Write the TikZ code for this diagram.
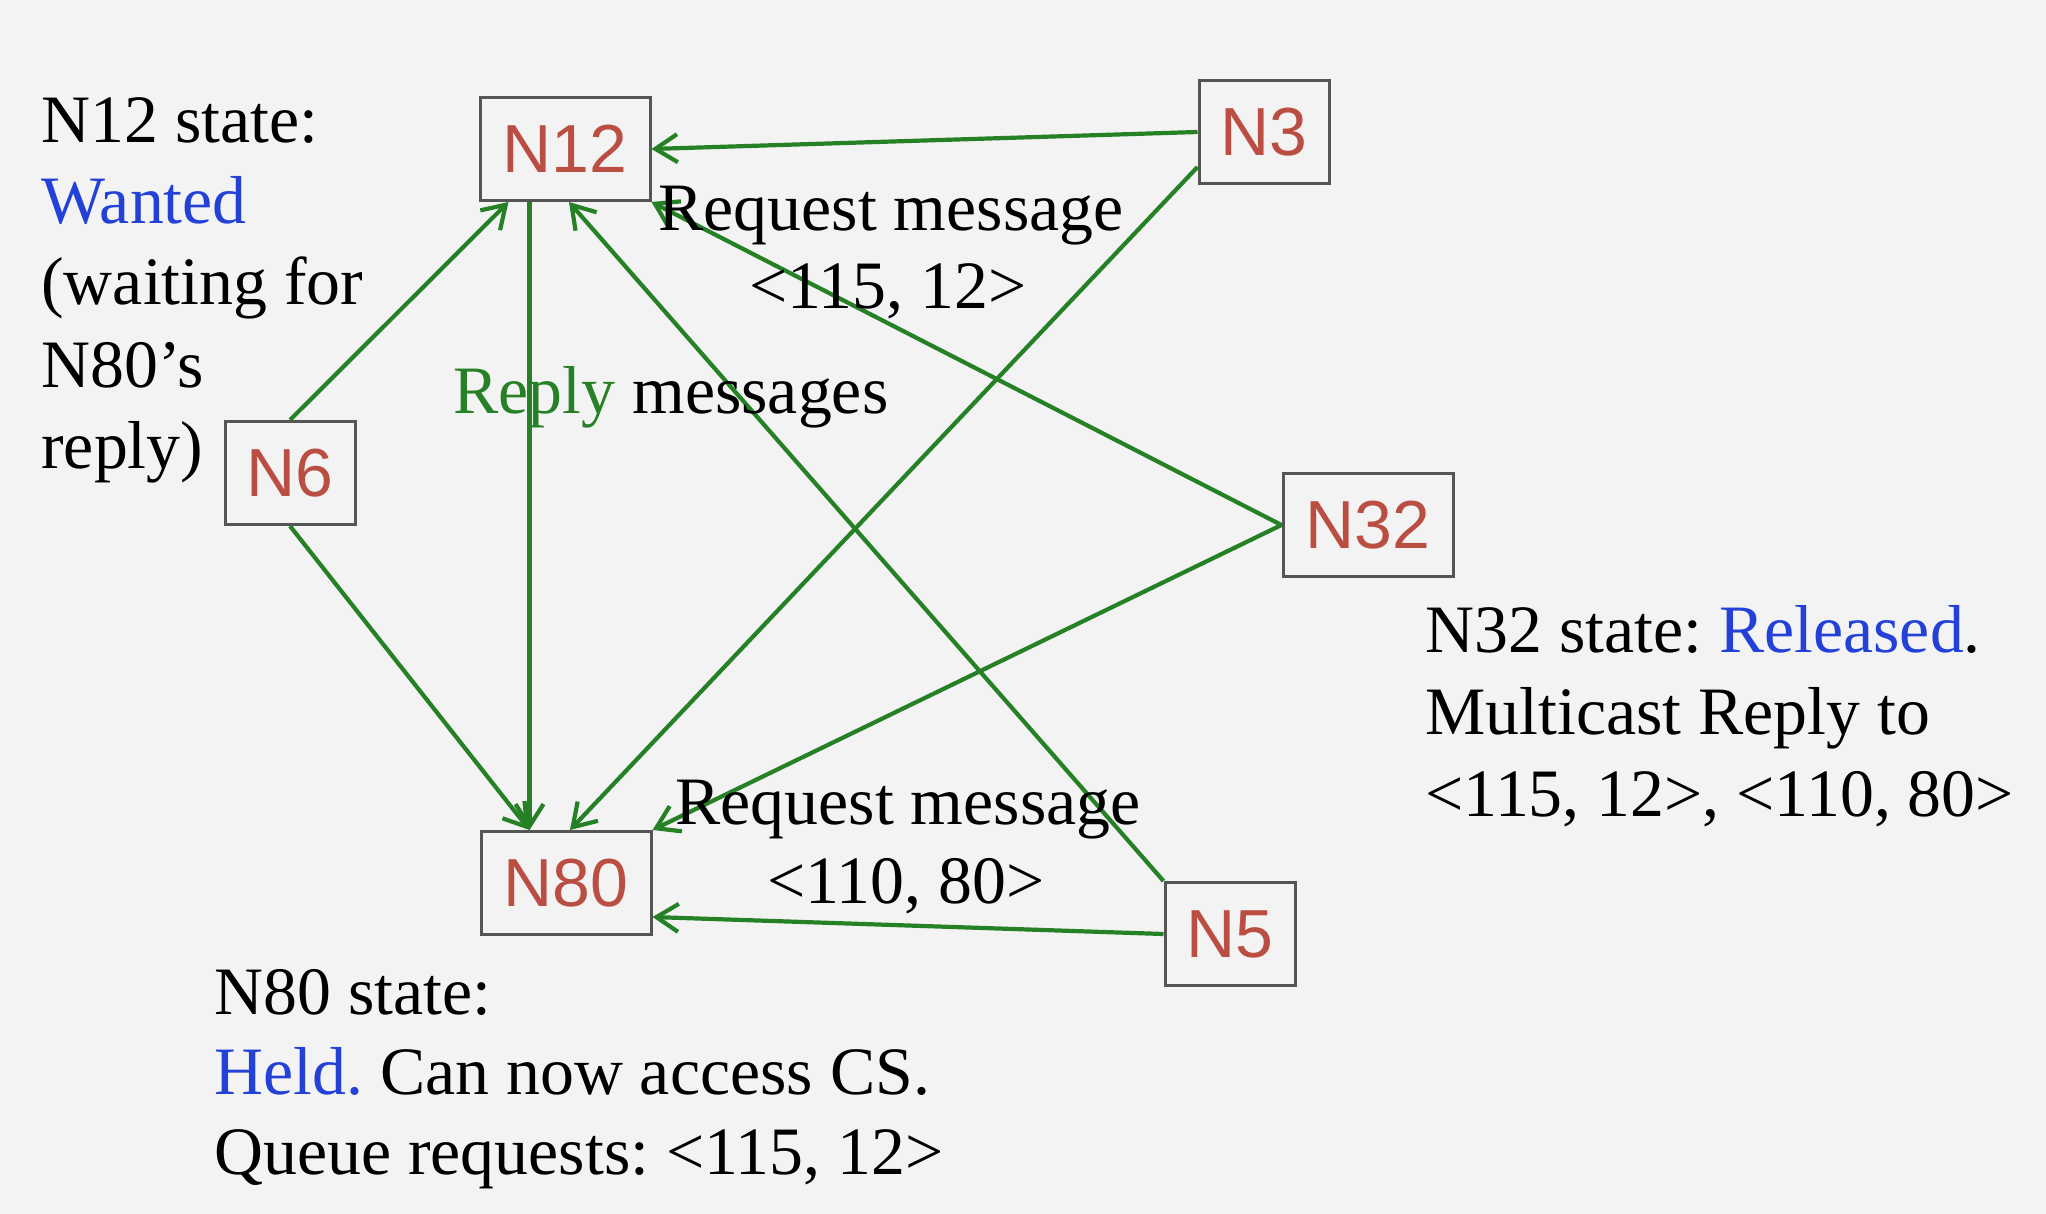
\documentclass[tikz,border=0pt]{standalone}
\usepackage{fontspec}
\setmainfont{Liberation Serif}
\newfontfamily\boxfont{Liberation Sans}
\usetikzlibrary{arrows.meta}
\definecolor{bg}{RGB}{243,243,243}
\definecolor{edgegreen}{RGB}{38,128,38}
\definecolor{nodered}{RGB}{186,78,66}
\definecolor{stateblue}{RGB}{35,65,215}
\definecolor{boxgray}{RGB}{85,85,85}
\frenchspacing
\begin{document}
\begin{tikzpicture}[x=0.5pt,y=-0.5pt,
  nodebox/.style={draw=boxgray,line width=1.5pt,text=nodered,font=\boxfont\fontsize{34}{40}\selectfont,minimum height=51.5pt,inner sep=0pt},
  small/.style={nodebox,minimum width=65pt},
  wide/.style={nodebox,minimum width=85pt},
  msg/.style={draw=edgegreen,line width=2.1pt,-{Straight Barb[length=11pt,width=14pt]}},
  txt/.style={font=\fontsize{33.9}{41}\selectfont,inner sep=0pt,anchor=base west},
  ctxt/.style={font=\fontsize{33.9}{41}\selectfont,inner sep=0pt,anchor=base},
]
\fill[bg] (0,0) rectangle (2046,1214);
\useasboundingbox (0,0) rectangle (2046,1214);

\node[wide]  (N12) at (565,149) {N12};
\node[small] (N3)  at (1264,132) {N3};
\node[small] (N6)  at (290,473) {N6};
\node[wide]  (N32) at (1368,525) {N32};
\node[wide]  (N80) at (566,883) {N80};
\node[small] (N5)  at (1230,934) {N5};

\draw[msg] (N3.west) -- (N12.east);
\draw[msg] ([yshift=-17.5pt]N3.west) -- ([xshift=2pt]N80.north);
\draw[msg] (N6.north) -- ([xshift=15pt]N12.south west);
\draw[msg] (N6.south) -- ([xshift=25pt]N80.north west);
\draw[msg] ([xshift=25.5pt]N12.south west) -- ([xshift=25pt]N80.north west);
\draw[msg] (N32.west) -- (N12.south east);
\draw[msg] (N32.west) -- (N80.north east);
\draw[msg] (N5.north west) -- ([xshift=2pt]N12.south);
\draw[msg] (N5.west) -- ([yshift=-17pt]N80.east);

\node[txt] (t12a) at (41,143) {N12 state:};
\node[txt,text=stateblue] (t12b) at (41,224) {Wanted};
\node[txt] (t12c) at (41,305) {(waiting for};
\node[txt] (t12d) at (41,387) {N80’s};
\node[txt] (t12e) at (41,468) {reply)};

\node[ctxt] (rq1a) at (891,231) {Request message};
\node[ctxt] (rq1b) at (888,308) {<115, 12>};
\node[txt] (rep) at (453,414) {\textcolor{edgegreen}{Reply} messages};
\node[ctxt] (rq2a) at (908,824) {Request message};
\node[ctxt] (rq2b) at (906,903) {<110, 80>};

\node[txt] (t32a) at (1425,652) {N32 state: \textcolor{stateblue}{Released}.};
\node[txt] (t32b) at (1425,734) {Multicast Reply to};
\node[txt] (t32c) at (1425,816) {<115, 12>, <110, 80>};

\node[txt] (t80a) at (214,1014) {N80 state:};
\node[txt] (t80b) at (214,1094) {\textcolor{stateblue}{Held.} Can now access CS.};
\node[txt] (t80c) at (214,1174) {Queue requests: <115, 12>};
\end{tikzpicture}
\end{document}
